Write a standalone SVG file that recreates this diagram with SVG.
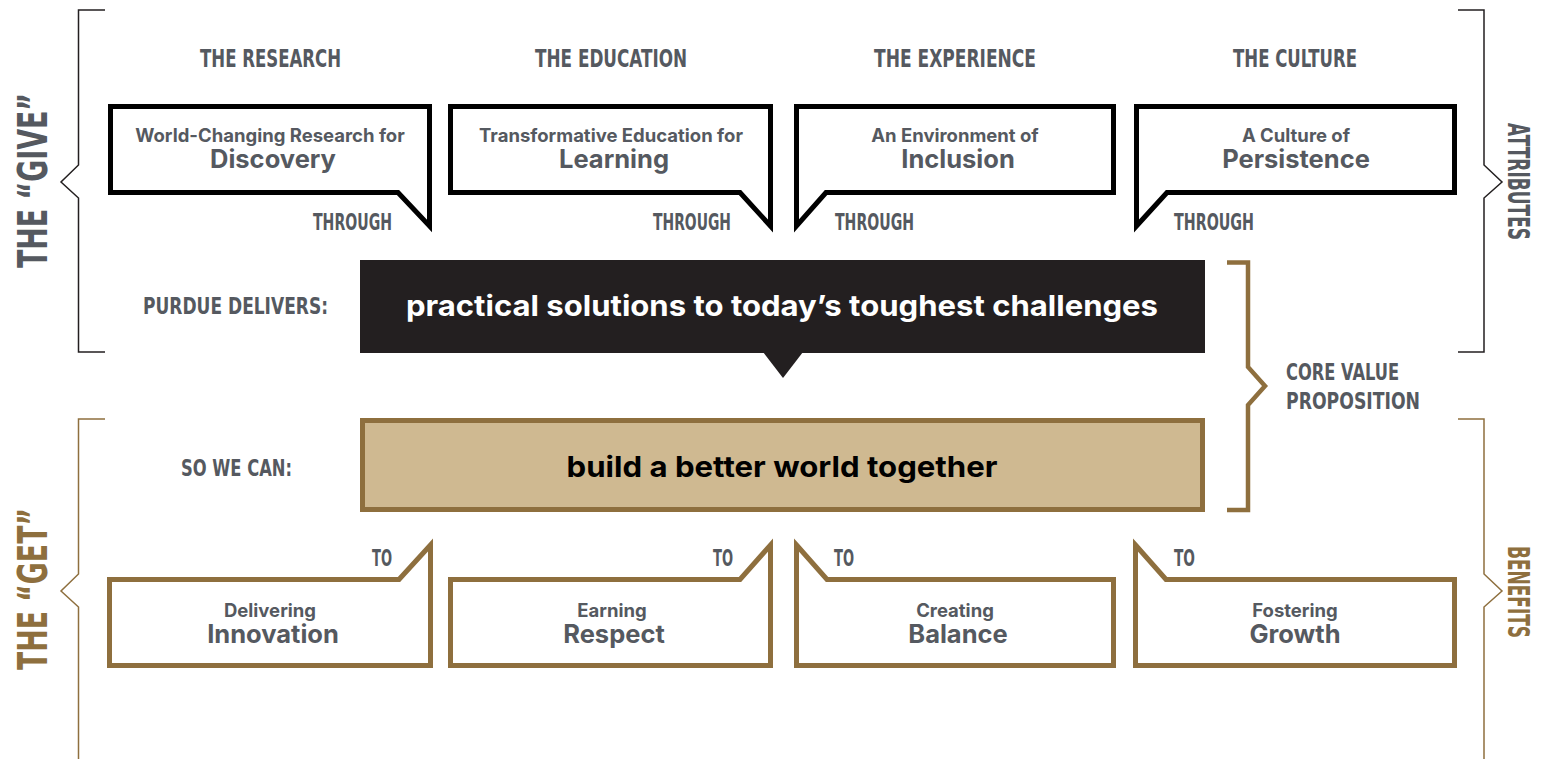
<svg xmlns="http://www.w3.org/2000/svg" width="1543" height="759" viewBox="0 0 1543 759">
<style>
.cond{font-family:"DejaVu Sans Condensed","Liberation Sans Narrow","DejaVu Sans",sans-serif;font-weight:bold;font-stretch:condensed;fill:#555960}
.gold{fill:#8E6F3E}
.sm{font-family:Inter,"Liberation Sans",Arial,sans-serif;font-weight:700;font-size:18.5px;fill:#555960;text-anchor:middle}
.lg{font-family:Inter,"Liberation Sans",Arial,sans-serif;font-weight:700;font-size:25.5px;fill:#555960;text-anchor:middle}
.bk{fill:#fff;stroke:#000;stroke-width:5;stroke-linejoin:miter}
.gb{fill:#fff;stroke:#8E6F3E;stroke-width:5;stroke-linejoin:miter}
.thin{fill:none;stroke-width:1.5}
</style>
<rect width="1543" height="759" fill="#fff"/>
<g id="connectors">
  <path class="thin" stroke="#231F20" d="M105,10 H78.5 V165 L61,182 L78.5,198 V352 H105"/>
  <path class="thin" stroke="#231F20" d="M1458,10 H1484 V165 L1502,182 L1484,198 V352 H1458"/>
  <path class="thin" stroke="#8E6F3E" d="M105,419 H78.5 V574 L61,591 L78.5,607 V759"/>
  <path class="thin" stroke="#8E6F3E" d="M1458,419 H1484 V574 L1502,591 L1484,607 V759"/>
  <path fill="none" stroke="#8E6F3E" stroke-width="4.5" d="M1227,262.5 H1248 V367 L1265,386 L1248,405 V510 H1227"/>
</g>
<g id="side-labels">
  <text class="cond" font-size="41" transform="translate(47,268) rotate(-90)" textLength="175" lengthAdjust="spacingAndGlyphs">THE “GIVE”</text>
  <text class="cond gold" font-size="41" transform="translate(47,670) rotate(-90)" textLength="162" lengthAdjust="spacingAndGlyphs">THE “GET”</text>
  <text class="cond" font-size="30" transform="translate(1508,123) rotate(90)" textLength="117" lengthAdjust="spacingAndGlyphs">ATTRIBUTES</text>
  <text class="cond gold" font-size="30" transform="translate(1508,546) rotate(90)" textLength="92" lengthAdjust="spacingAndGlyphs">BENEFITS</text>
</g>
<g id="headers">
  <text class="cond" font-size="24" x="200" y="67" textLength="141" lengthAdjust="spacingAndGlyphs">THE RESEARCH</text>
  <text class="cond" font-size="24" x="535" y="67" textLength="152" lengthAdjust="spacingAndGlyphs">THE EDUCATION</text>
  <text class="cond" font-size="24" x="874" y="67" textLength="162" lengthAdjust="spacingAndGlyphs">THE EXPERIENCE</text>
  <text class="cond" font-size="24" x="1233" y="67" textLength="124" lengthAdjust="spacingAndGlyphs">THE CULTURE</text>
</g>
<g id="give-research">
  <path class="bk" d="M110.5,106.5 H429.5 V226 L398,192.5 H110.5 Z"/>
  <text class="sm" x="270" y="142">World-Changing Research for</text>
  <text class="lg" x="273" y="168">Discovery</text>
  <text class="cond" font-size="23" x="313" y="230" textLength="79" lengthAdjust="spacingAndGlyphs">THROUGH</text>
</g>
<g id="give-education">
  <path class="bk" d="M450.5,106.5 H770.5 V226 L740,192.5 H450.5 Z"/>
  <text class="sm" x="611" y="142">Transformative Education for</text>
  <text class="lg" x="614" y="168">Learning</text>
  <text class="cond" font-size="23" x="653" y="230" textLength="78" lengthAdjust="spacingAndGlyphs">THROUGH</text>
</g>
<g id="give-experience">
  <path class="bk" d="M796.5,106.5 H1113.5 V192.5 H826 L796.5,226 Z"/>
  <text class="sm" x="955" y="142">An Environment of</text>
  <text class="lg" x="958" y="168">Inclusion</text>
  <text class="cond" font-size="23" x="835" y="230" textLength="79" lengthAdjust="spacingAndGlyphs">THROUGH</text>
</g>
<g id="give-culture">
  <path class="bk" d="M1136.5,106.5 H1454.5 V192.5 H1167 L1136.5,226 Z"/>
  <text class="sm" x="1296" y="142">A Culture of</text>
  <text class="lg" x="1296" y="168">Persistence</text>
  <text class="cond" font-size="23" x="1174" y="230" textLength="80" lengthAdjust="spacingAndGlyphs">THROUGH</text>
</g>
<g id="purdue-delivers">
  <text class="cond" font-size="23" x="143" y="314" textLength="185" lengthAdjust="spacingAndGlyphs">PURDUE DELIVERS:</text>
  <rect x="360" y="260" width="845" height="93" fill="#231F20"/>
  <polygon points="763,352 803,352 783,378" fill="#231F20"/>
  <text x="782" y="316" font-family="Inter,'Liberation Sans',Arial,sans-serif" font-weight="700" font-size="29" fill="#fff" text-anchor="middle" textLength="752" lengthAdjust="spacingAndGlyphs">practical solutions to today’s toughest challenges</text>
</g>
<g id="so-we-can">
  <text class="cond" font-size="23" x="181" y="476" textLength="111" lengthAdjust="spacingAndGlyphs">SO WE CAN:</text>
  <rect x="362.5" y="420.5" width="840" height="89" fill="#CFB991" stroke="#8E6F3E" stroke-width="5"/>
  <text x="782" y="477" font-family="Inter,'Liberation Sans',Arial,sans-serif" font-weight="700" font-size="29" fill="#000" text-anchor="middle" textLength="431" lengthAdjust="spacingAndGlyphs">build a better world together</text>
</g>
<g id="core-value">
  <text class="cond" font-size="23" x="1286" y="380" textLength="113" lengthAdjust="spacingAndGlyphs">CORE VALUE</text>
  <text class="cond" font-size="23" x="1286" y="409" textLength="134" lengthAdjust="spacingAndGlyphs">PROPOSITION</text>
</g>
<g id="get-innovation">
  <path class="gb" d="M109.5,579.5 H399 L430.5,545 V665.5 H109.5 Z"/>
  <text class="cond" font-size="23" x="372" y="566" textLength="20" lengthAdjust="spacingAndGlyphs">TO</text>
  <text class="sm" x="270" y="617">Delivering</text>
  <text class="lg" x="273" y="643">Innovation</text>
</g>
<g id="get-respect">
  <path class="gb" d="M450.5,579.5 H740 L770.5,545 V665.5 H450.5 Z"/>
  <text class="cond" font-size="23" x="713" y="566" textLength="20" lengthAdjust="spacingAndGlyphs">TO</text>
  <text class="sm" x="612" y="617">Earning</text>
  <text class="lg" x="614" y="643">Respect</text>
</g>
<g id="get-balance">
  <path class="gb" d="M796.5,545 L827,579.5 H1113.5 V665.5 H796.5 Z"/>
  <text class="cond" font-size="23" x="834" y="566" textLength="20" lengthAdjust="spacingAndGlyphs">TO</text>
  <text class="sm" x="955" y="617">Creating</text>
  <text class="lg" x="958" y="643">Balance</text>
</g>
<g id="get-growth">
  <path class="gb" d="M1135.5,545 L1166,579.5 H1454.5 V665.5 H1135.5 Z"/>
  <text class="cond" font-size="23" x="1174" y="566" textLength="21" lengthAdjust="spacingAndGlyphs">TO</text>
  <text class="sm" x="1295" y="617">Fostering</text>
  <text class="lg" x="1295" y="643">Growth</text>
</g>
</svg>
